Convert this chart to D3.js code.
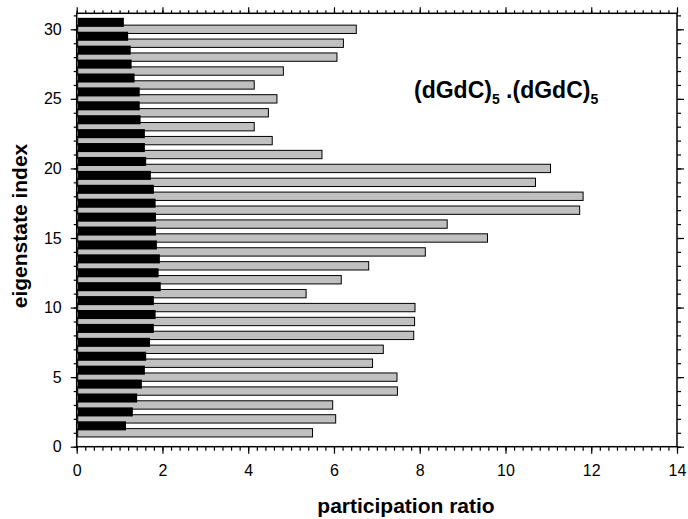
<!DOCTYPE html>
<html>
<head>
<meta charset="utf-8">
<script src="https://cdn.jsdelivr.net/npm/d3@7"></script>
<style>
    body { margin: 0; background: #ffffff; }
    svg text { font-family: "Liberation Sans", Arial, sans-serif; fill: #000; }
</style>
</head>
<body>
<div id="chart"></div>
<script>

///////////////////////////////////////////////////////////////////////////////////////////////////
// data, eigenstate index 1 .. 30

var eigenstate_index = [1, 2, 3, 4, 5, 6, 7, 8, 9, 10,
    11, 12, 13, 14, 15, 16, 17, 18, 19, 20,
    21, 22, 23, 24, 25, 26, 27, 28, 29, 30];

// gray bars
var ratio_gray = [5.50, 6.04, 5.97, 7.48, 7.47, 6.90, 7.15, 7.86, 7.88, 7.89,
    5.35, 6.17, 6.81, 8.13, 9.58, 8.64, 11.73, 11.81, 10.70, 11.05,
    5.72, 4.56, 4.14, 4.47, 4.67, 4.14, 4.82, 6.07, 6.22, 6.52];

// black bars
var ratio_black = [1.15, 1.31, 1.41, 1.52, 1.59, 1.62, 1.71, 1.80, 1.84, 1.80,
    1.96, 1.91, 1.94, 1.87, 1.85, 1.85, 1.84, 1.80, 1.73, 1.62,
    1.59, 1.59, 1.49, 1.47, 1.47, 1.35, 1.28, 1.26, 1.20, 1.10];

var x_ticks = [0, 2, 4, 6, 8, 10, 12, 14];
var y_ticks = [0, 5, 10, 15, 20, 25, 30];

///////////////////////////////////////////////////////////////////////////////////////////////////

function draw_chart(element_id) {

    var svg_width = 688, svg_height = 519;
    var margin = { top: 13.3, right: 11, bottom: 72.3, left: 76.7 };

    var svg = d3.select('#' + element_id)
      .append("svg")
        .attr("width", svg_width)
        .attr("height", svg_height);

    var x = d3.scaleLinear()
        .domain([0, 14])
        .range([margin.left, svg_width - margin.right]);

    var y = d3.scaleLinear()
        .domain([0, 31.15])
        .range([svg_height - margin.bottom, margin.top]);

    let gray_h = 0.6, black_h = 0.65, black_shift = 0.5;

    // gray bars first, black ones sit on top of them
    svg.append("g").selectAll("rect")
        .data(eigenstate_index)
        .join("rect")
            .attr("x", x(0) + 1)
            .attr("y", function(d) { return y(d + gray_h / 2); })
            .attr("width", function(d, i) { return x(ratio_gray[i]) - x(0) - 1; })
            .attr("height", y(0) - y(gray_h))
            .style("fill", "#c0c0c0")
            .style("stroke", "#000")
            .style("stroke-width", 1);

    svg.append("g").selectAll("rect")
        .data(eigenstate_index)
        .join("rect")
            .attr("x", x(0) + 1)
            .attr("y", function(d) { return y(d + black_shift + black_h / 2); })
            .attr("width", function(d, i) { return x(ratio_black[i]) - x(0) - 1; })
            .attr("height", y(0) - y(black_h))
            .style("fill", "#000");

    // axes on all four sides, major + minor ticks
    var x_minor = d3.range(0, 14.01, 0.2);
    var y_minor = d3.range(0, 31.01, 1);

    function style_axis(g) {
        g.select(".domain").remove();
        g.selectAll("line").attr("stroke", "#000").attr("stroke-width", 1.2);
        g.selectAll("text").style("font-size", "16px");
    } // end function

    svg.append("g")
        .attr("transform", "translate(0," + y(0) + ")")
        .call(d3.axisBottom(x).tickValues(x_minor).tickSize(4).tickFormat(""))
        .call(style_axis);
    svg.append("g")
        .attr("transform", "translate(0," + y(0) + ")")
        .call(d3.axisBottom(x).tickValues(x_ticks).tickSize(7).tickPadding(11).tickFormat(d3.format("d")))
        .call(style_axis);

    svg.append("g")
        .attr("transform", "translate(0," + margin.top + ")")
        .call(d3.axisTop(x).tickValues(x_minor).tickSize(3).tickFormat(""))
        .call(style_axis);
    svg.append("g")
        .attr("transform", "translate(0," + margin.top + ")")
        .call(d3.axisTop(x).tickValues(x_ticks).tickSize(6).tickFormat(""))
        .call(style_axis);

    svg.append("g")
        .attr("transform", "translate(" + x(0) + ",0)")
        .call(d3.axisLeft(y).tickValues(y_minor).tickSize(3).tickFormat(""))
        .call(style_axis);
    svg.append("g")
        .attr("transform", "translate(" + x(0) + ",0)")
        .call(d3.axisLeft(y).tickValues(y_ticks).tickSize(6).tickPadding(9).tickFormat(d3.format("d")))
        .call(style_axis);

    svg.append("g")
        .attr("transform", "translate(" + x(14) + ",0)")
        .call(d3.axisRight(y).tickValues(y_minor).tickSize(4).tickFormat(""))
        .call(style_axis);
    svg.append("g")
        .attr("transform", "translate(" + x(14) + ",0)")
        .call(d3.axisRight(y).tickValues(y_ticks).tickSize(7).tickFormat(""))
        .call(style_axis);

    // frame
    svg.append("rect")
        .attr("x", x(0))
        .attr("y", margin.top)
        .attr("width", x(14) - x(0))
        .attr("height", y(0) - margin.top)
        .style("fill", "none")
        .style("stroke", "#000")
        .style("stroke-width", 1.5);

    // axis titles
    svg.append("text")
        .attr("x", 406)
        .attr("y", 513)
        .style("text-anchor", "middle")
        .style("font-size", "21px")
        .style("font-weight", "bold")
        .text("participation ratio");

    svg.append("text")
        .attr("transform", "translate(27," + 226 + ") rotate(-90)")
        .style("text-anchor", "middle")
        .style("font-size", "21px")
        .style("font-weight", "bold")
        .text("eigenstate index");

    // molecule label with subscripts
    let label = svg.append("text")
        .attr("x", 414)
        .attr("y", 98)
        .style("font-size", "23px")
        .style("font-weight", "bold");
    label.append("tspan").text("(dGdC)");
    label.append("tspan").attr("dy", 6).style("font-size", "14px").text("5");
    label.append("tspan").attr("dy", -6).text(" .(dGdC)");
    label.append("tspan").attr("dy", 6).style("font-size", "14px").text("5");

} // end function

///////////////////////////////////////////////////////////////////////////////////////////////////

draw_chart("chart");

</script>
</body>
</html>
